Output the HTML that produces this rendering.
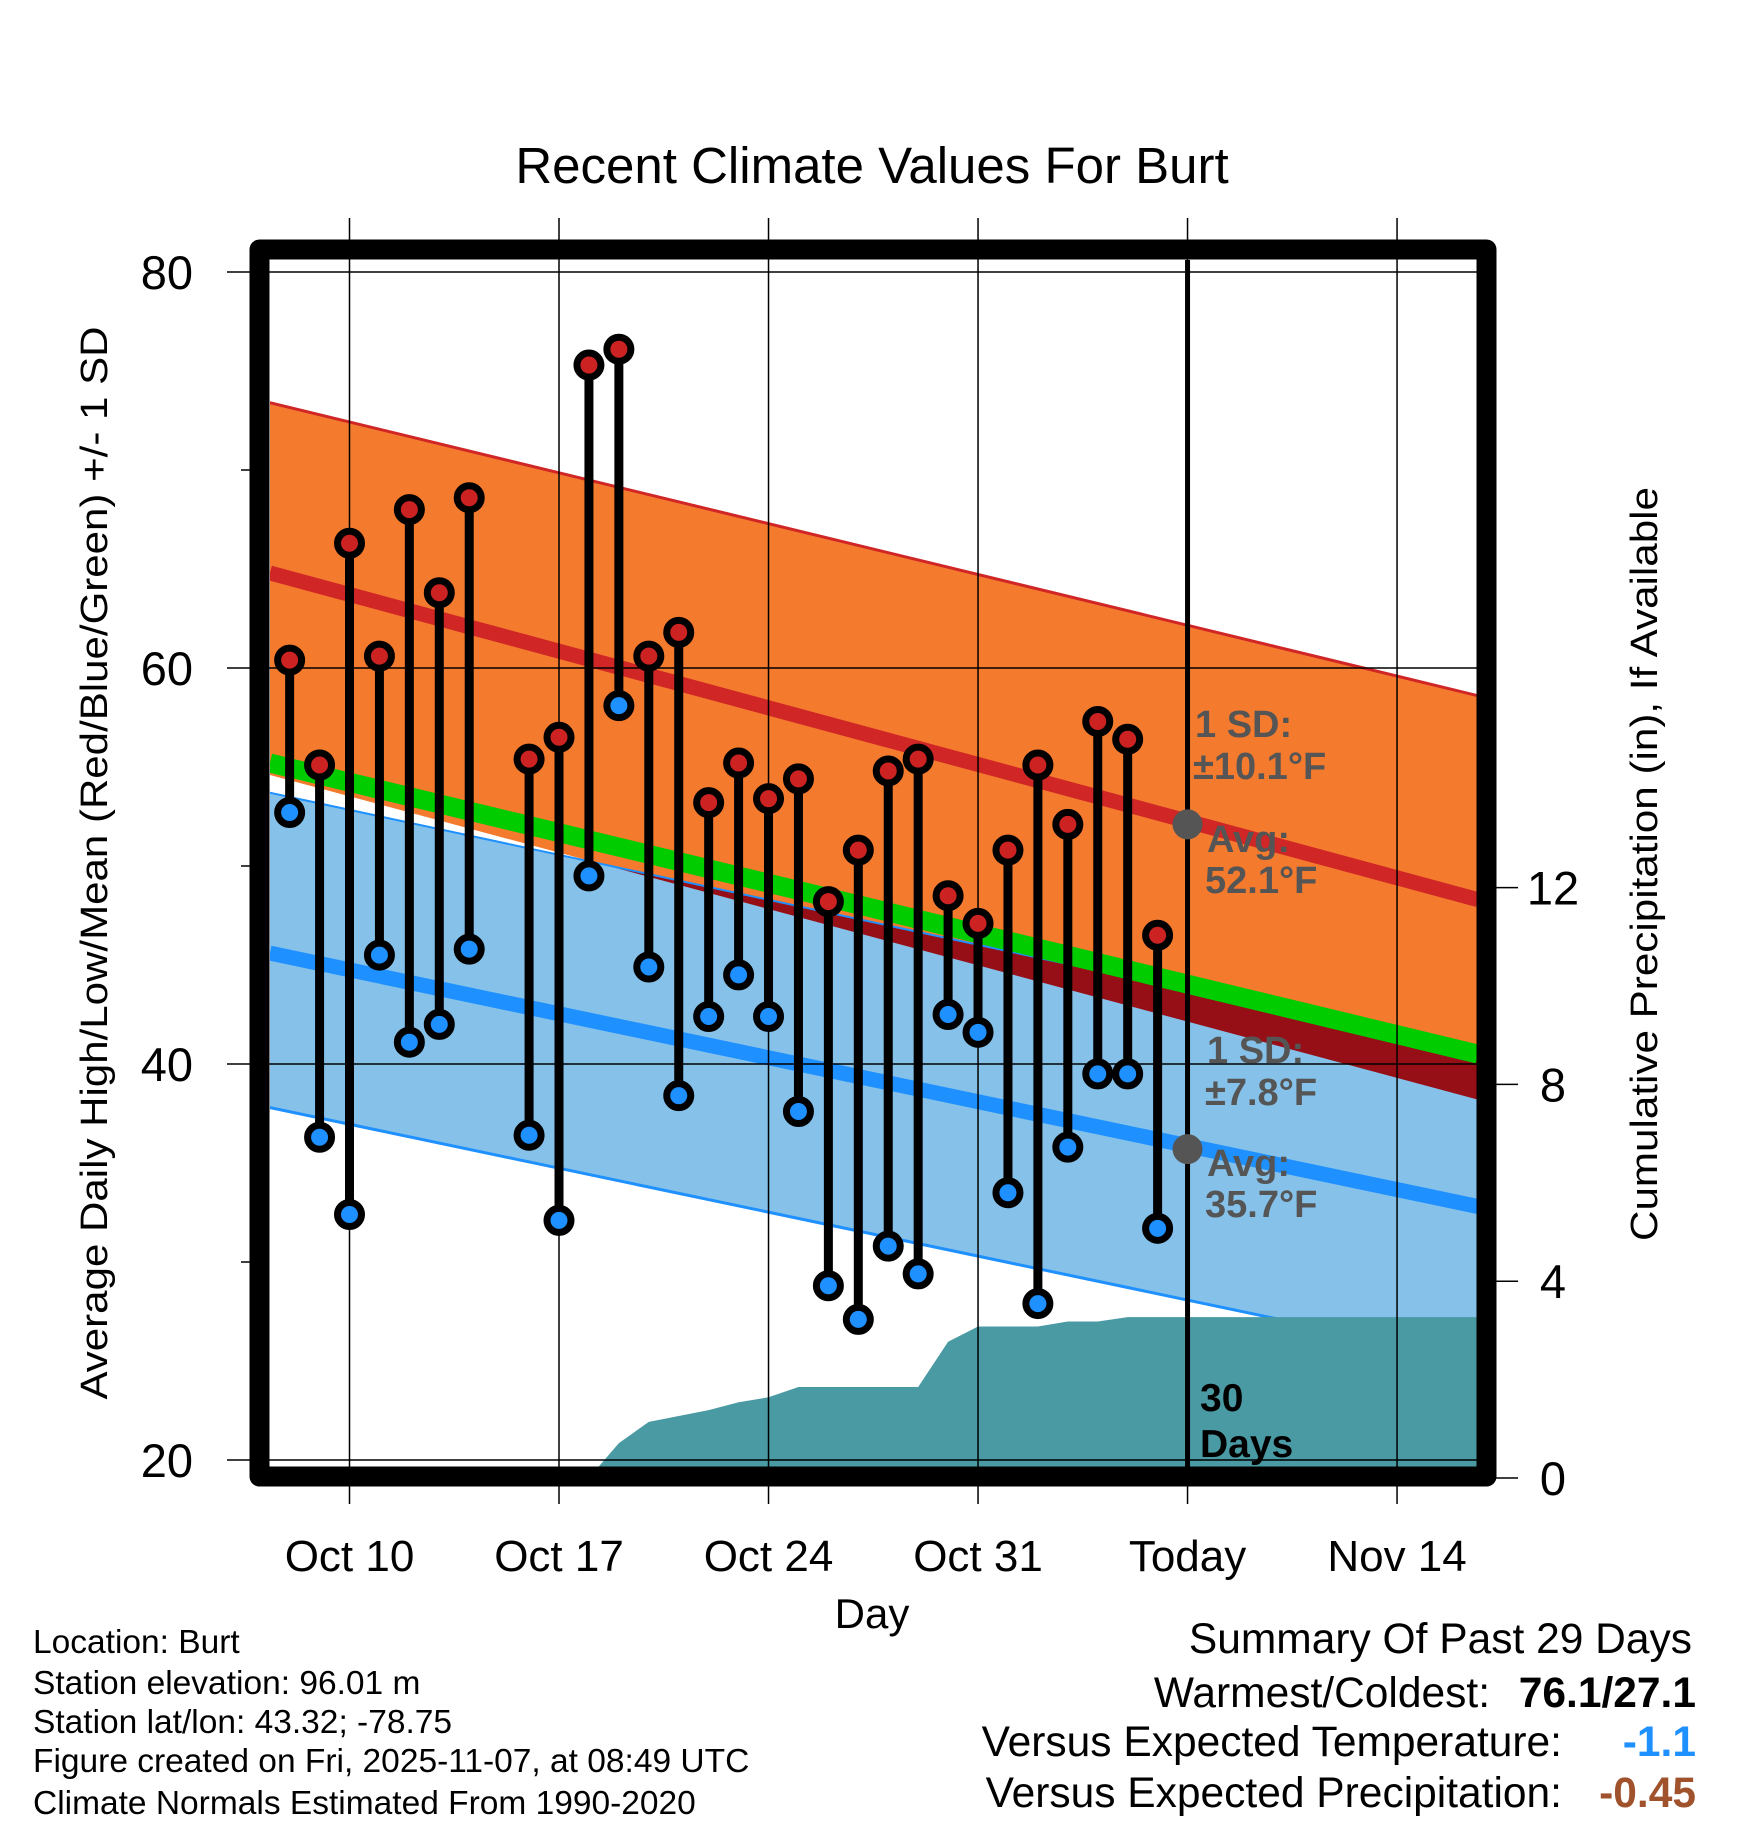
<!DOCTYPE html>
<html><head><meta charset="utf-8">
<style>
html,body{margin:0;padding:0;background:#fff;}
svg{display:block;font-family:"Liberation Sans",Arial,sans-serif;}
</style></head>
<body>
<svg id="chart" width="1748" height="1828" viewBox="0 0 1748 1828" xmlns="http://www.w3.org/2000/svg">
<defs>
<clipPath id="plotClip"><rect x="270" y="260" width="1208" height="1208"/></clipPath>
<clipPath id="hiBandClip"><polygon id="hiBandClipPoly"/></clipPath>
</defs>
<g id="plot" clip-path="url(#plotClip)"></g>
<g id="grid"></g>
<g id="marks" clip-path="url(#plotClip)"></g>
<g id="axes"></g>
<text x="872" y="183" font-size="51" text-anchor="middle">Recent Climate Values For Burt</text>
<text x="872" y="1628" font-size="42" text-anchor="middle">Day</text>
<text transform="translate(107,863) rotate(-90)" font-size="38" text-anchor="middle" textLength="1073" lengthAdjust="spacingAndGlyphs">Average Daily High/Low/Mean (Red/Blue/Green) +/- 1 SD</text>
<text transform="translate(1657,864) rotate(-90)" font-size="38" text-anchor="middle" textLength="754" lengthAdjust="spacingAndGlyphs">Cumulative Precipitation (in), If Available</text>
<g font-size="33.5">
<text x="33" y="1653">Location: Burt</text>
<text x="33" y="1694">Station elevation: 96.01 m</text>
<text x="33" y="1733">Station lat/lon: 43.32; -78.75</text>
<text x="33" y="1772">Figure created on Fri, 2025-11-07, at 08:49 UTC</text>
<text x="33" y="1814">Climate Normals Estimated From 1990-2020</text>
</g>
<g font-size="42.5">
<text x="1692" y="1653" text-anchor="end">Summary Of Past 29 Days</text>
<text x="1490" y="1707" text-anchor="end">Warmest/Coldest:</text>
<text x="1696" y="1707" text-anchor="end" font-weight="bold">76.1/27.1</text>
<text x="1562" y="1756" text-anchor="end">Versus Expected Temperature:</text>
<text x="1696" y="1756" text-anchor="end" font-weight="bold" fill="#1E90FF">-1.1</text>
<text x="1562" y="1807" text-anchor="end">Versus Expected Precipitation:</text>
<text x="1696" y="1807" text-anchor="end" font-weight="bold" fill="#A0522D">-0.45</text>
</g>
</svg>
<script>
// ---- data ----
const days = [-2,-1,0,1,2,3,4,6,7,8,9,10,11,12,13,14,15,16,17,18,19,20,21,22,23,24,25,26,27]; // days since Oct 10
const highs = [60.4,55.1,66.3,60.6,68.0,63.8,68.6,55.4,56.5,75.3,76.1,60.6,61.8,53.2,55.2,53.4,54.4,48.2,50.8,54.8,55.4,48.5,47.1,50.8,55.1,52.1,57.3,56.4,46.5];
const lows = [52.7,36.3,32.4,45.5,41.1,42.0,45.8,36.4,32.1,49.5,58.1,44.9,38.4,42.4,44.5,42.4,37.6,28.8,27.1,30.8,29.4,42.5,41.6,33.5,27.9,35.8,39.5,39.5,31.7];
const precip = [0,0,0,0,0,0,0,0,0,0,0.71,1.14,1.26,1.38,1.54,1.64,1.85,1.85,1.85,1.85,1.85,2.77,3.08,3.08,3.08,3.18,3.18,3.27,3.27];
const normDays = [-2.66, 37.7];
const hiUpper = [73.4, 58.6];
const hiMean = [64.8, 48.3];
const hiLower = [54.6, 38.2];
const meanTemp = [55.2, 40.5];
const loUpper = [53.7, 40.6];
const loMean = [45.6, 32.8];
const loLower = [37.8, 25.0];
const xTickDays = [0,7,14,21,28,35];
const xTickLabels = ["Oct 10","Oct 17","Oct 24","Oct 31","Today","Nov 14"];
const yTicks = [80,60,40,20];
const yMinor = [70,50,30];
const pTicks = [0,4,8,12];
const todayDay = 28;
const todayHi = 52.1, todayLo = 35.7;

// ---- scales ----
const X = d => 349.5 + 29.93*d;
const Y = v => 272 + (80 - v)*19.8;
const P = p => 1478 - p*49.2;
const NS = "http://www.w3.org/2000/svg";
function mk(tag, attrs, parent){const e=document.createElementNS(NS,tag);for(const k in attrs)e.setAttribute(k,attrs[k]);parent.appendChild(e);return e;}
const plot=document.getElementById('plot'), grid=document.getElementById('grid'), marks=document.getElementById('marks'), axes=document.getElementById('axes');
function band(up, lo){return `${X(normDays[0])},${Y(up[0])} ${X(normDays[1])},${Y(up[1])} ${X(normDays[1])},${Y(lo[1])} ${X(normDays[0])},${Y(lo[0])}`;}
function line(arr){return {x1:X(normDays[0]),y1:Y(arr[0]),x2:X(normDays[1]),y2:Y(arr[1])};}

let e;
e=mk('polygon',{points:band(hiUpper,hiLower),fill:'#F47A2E'},plot);


document.getElementById('hiBandClipPoly').setAttribute('points',band(hiUpper,hiLower));
e=mk('polygon',{points:band(loUpper,loLower),fill:'#85C1E9'},plot);


e=mk('polygon',{points:band(loUpper,loLower),fill:'#960E16','clip-path':'url(#hiBandClip)'},plot);


e=mk('line',Object.assign(line(hiUpper),{stroke:'#D02626','stroke-width':3}),plot);


e=mk('line',Object.assign(line(loLower),{stroke:'#1E90FF','stroke-width':3}),plot);


e=mk('line',Object.assign(line(loUpper),{stroke:'#1E90FF','stroke-width':2}),plot);


e=mk('line',Object.assign(line(meanTemp),{stroke:'#00CC00','stroke-width':19}),plot);


e=mk('line',Object.assign(line(hiMean),{stroke:'#D02626','stroke-width':15}),plot);


e=mk('line',Object.assign(line(loMean),{stroke:'#1E90FF','stroke-width':15}),plot);



// precip area
let pts=[`${X(days[0])},${P(0)}`];
days.forEach((d,i)=>pts.push(`${X(d)},${P(precip[i])}`));
pts.push(`${X(normDays[1])+20},${P(precip[precip.length-1])}`,`${X(normDays[1])+20},${P(0)+10}`,`${X(days[0])},${P(0)+10}`);
e=mk('polygon',{points:pts.join(' '),fill:'#4A9AA4'},plot);



// grid
xTickDays.forEach((d,i)=>{
  e=mk('line',{x1:X(d),x2:X(d),y1:218,y2:1504,stroke:'#000','stroke-width':1.5},grid);
  
  
  e=mk('text',{x:X(d),y:1571,'font-size':44,'text-anchor':'middle'},axes);
  e.textContent=xTickLabels[i];
  
  
});
yTicks.forEach(v=>{
  e=mk('line',{x1:227,x2:1478,y1:Y(v),y2:Y(v),stroke:'#000','stroke-width':1.5},grid);
  
  
  e=mk('text',{x:193,y:Y(v)+17,'font-size':47,'text-anchor':'end'},axes);
  e.textContent=v;
  
  
});
yMinor.forEach(v=>{
  e=mk('line',{x1:241,x2:258,y1:Y(v),y2:Y(v),stroke:'#000','stroke-width':1.5},grid);
  
  
});
pTicks.forEach(p=>{
  e=mk('line',{x1:1490,x2:1518,y1:P(p),y2:P(p),stroke:'#000','stroke-width':1.5},axes);
  
  
  e=mk('text',{x:1553,y:P(p)+17,'font-size':47,'text-anchor':'middle'},axes);
  e.textContent=p;
  
  
});

// today line
e=mk('line',{x1:X(todayDay),x2:X(todayDay),y1:260,y2:1468,stroke:'#000','stroke-width':5},marks);



// daily stems and points
days.forEach((d,i)=>{
  e=mk('line',{x1:X(d),x2:X(d),y1:Y(highs[i]),y2:Y(lows[i]),stroke:'#000','stroke-width':9},marks);
  
  
});
days.forEach((d,i)=>{
  e=mk('circle',{cx:X(d),cy:Y(highs[i]),r:12,fill:'#CC2222',stroke:'#000','stroke-width':7},marks);
  
  
  e=mk('circle',{cx:X(d),cy:Y(lows[i]),r:12,fill:'#1E90FF',stroke:'#000','stroke-width':7},marks);
  
  
});
e=mk('circle',{cx:X(todayDay),cy:Y(todayHi),r:15,fill:'#555'},marks);


e=mk('circle',{cx:X(todayDay),cy:Y(todayLo),r:15,fill:'#555'},marks);



// annotations
const ann=[["1 SD:",1195,737,"high-sd-label"],["±10.1°F",1193,779,"high-sd-value"],["Avg:",1207,852,"avg-high-label"],["52.1°F",1205,893,"avg-high-value"],["1 SD:",1207,1063,"low-sd-label"],["±7.8°F",1205,1105,"low-sd-value"],["Avg:",1207,1176,"avg-low-label"],["35.7°F",1205,1217,"avg-low-value"]];
ann.forEach(a=>{
  e=mk('text',{x:a[1],y:a[2],'font-size':38,'font-weight':'bold',fill:'#555'},marks);
  e.textContent=a[0];
  
  
});
e=mk('text',{x:1200,y:1411,'font-size':39,'font-weight':'bold',fill:'#000'},marks);
e.textContent="30";


e=mk('text',{x:1200,y:1457,'font-size':39,'font-weight':'bold',fill:'#000'},marks);
e.textContent="Days";



// frame
e=mk('rect',{x:259.5,y:249.5,width:1227,height:1227,fill:'none',stroke:'#000','stroke-width':20,'stroke-linejoin':'round'},axes);


</script>
</body></html>
